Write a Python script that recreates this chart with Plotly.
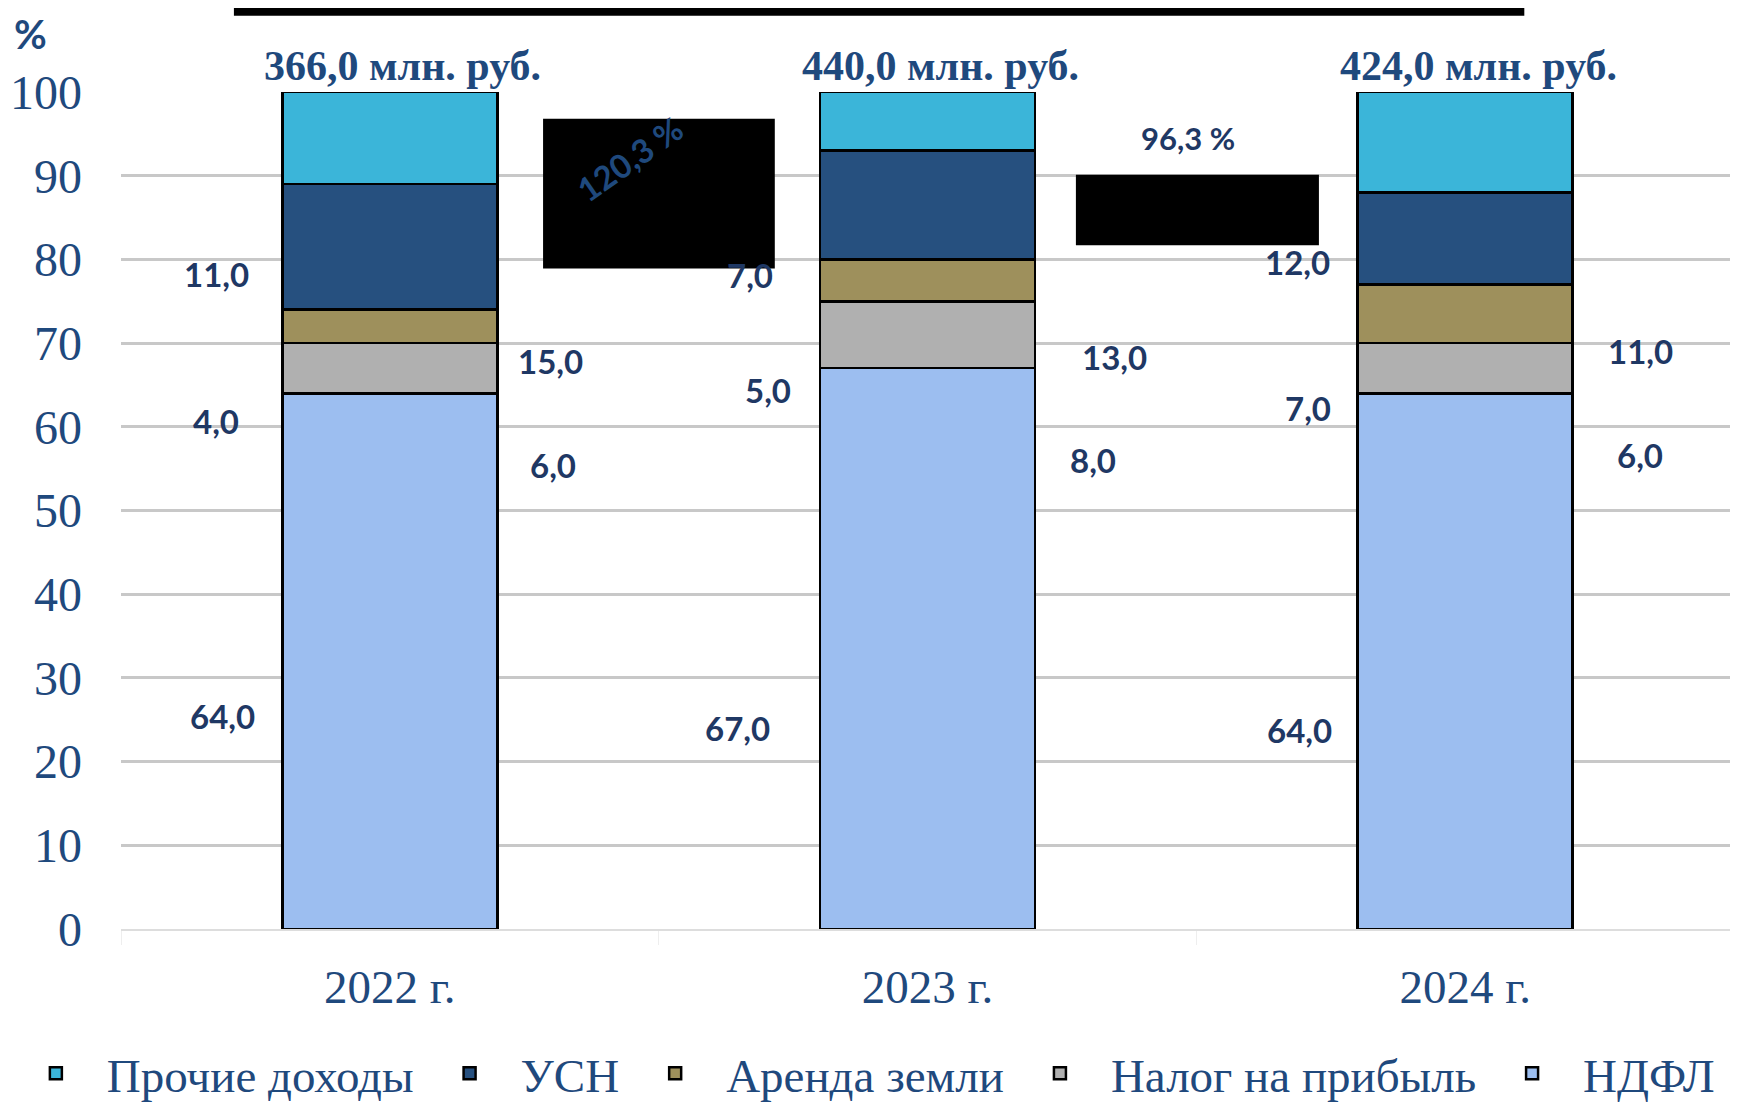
import plotly.graph_objects as go

# ---- data ----
years = ["2022 г.", "2023 г.", "2024 г."]
ndfl = [64.0, 67.0, 64.0]          # НДФЛ
profit_tax = [6.0, 8.0, 6.0]       # Налог на прибыль
land_rent = [4.0, 5.0, 7.0]        # Аренда земли
usn = [15.0, 13.0, 11.0]           # УСН
other = [11.0, 7.0, 12.0]          # Прочие доходы
totals = [366.0, 440.0, 424.0]     # млн. руб.
growth = [120.3, 96.3]             # % к предыдущему году

series_names = ["НДФЛ", "Налог на прибыль", "Аренда земли", "УСН", "Прочие доходы"]
series_values = [ndfl, profit_tax, land_rent, usn, other]
series_colors = ["#9CBEF0", "#B0B0B0", "#9E905C", "#26507F", "#3BB5D9"]

# ---- label placement (layout only) ----
label_y = [  # per year, per series (НДФЛ, Налог, Аренда, УСН, Прочие)
    [25.4, 55.4, 60.7, 67.9, 78.3],
    [24.0, 56.0, 64.4, 68.3, 78.1],
    [23.8, 56.6, 62.3, 69.0, 79.7],
]
label_dx = [
    [-167, 163, -174, 161, -173],
    [-190, 165, -160, 187, -178],
    [-166, 175, -157, 175, -168],
]

NAVY = "#1F497D"
LABEL = "#1F3864"
SERIF = "Liberation Serif"
SANS = "Lato"


def fmt(v):
    return f"{v:.1f}".replace(".", ",")


fig = go.Figure()
for name, vals, col in zip(series_names, series_values, series_colors):
    fig.add_trace(go.Bar(
        x=years, y=vals, name=name, width=0.4,
        marker=dict(color=col, line=dict(color="#000000", width=2.5)),
        hoverinfo="x+y+name",
    ))

annotations = []
for i, yr in enumerate(years):
    for j, vals in enumerate(series_values):
        annotations.append(dict(
            x=yr, y=label_y[i][j], xref="x", yref="y", text=f"<b>{fmt(vals[i])}</b>",
            showarrow=False, xshift=label_dx[i][j],
            font=dict(family=SANS, size=33, color=LABEL),
        ))
    annotations.append(dict(
        x=yr, y=100, xref="x", yref="y", yanchor="bottom", yshift=1, xshift=13,
        text=f"<b>{fmt(totals[i])} млн. руб.</b>", showarrow=False,
        font=dict(family=SERIF, size=42, color=NAVY),
    ))

# growth labels
annotations.append(dict(
    x=0.445, y=92.0, xref="x", yref="y", text=f"<b>{fmt(growth[0])} %</b>",
    showarrow=False, textangle=-35,
    font=dict(family=SANS, size=33, color=NAVY),
))
annotations.append(dict(
    x=1.485, y=94.5, xref="x", yref="y", text=f"<b>{fmt(growth[1])} %</b>",
    showarrow=False, font=dict(family=SANS, size=31, color=LABEL),
))
# "%" axis unit
annotations.append(dict(
    x=-0.0564, y=1.1, xref="paper", yref="paper", xanchor="center", yanchor="top",
    text="<b>%</b>", showarrow=False, font=dict(family=SANS, size=40, color=NAVY),
))

shapes = [
    # redaction boxes
    dict(type="rect", xref="paper", yref="paper", x0=0.070, x1=0.870, y0=1.091, y1=1.12,
         fillcolor="#000000", line=dict(width=0), layer="below"),
    dict(type="rect", xref="x", yref="y", x0=0.285, x1=0.716, y0=78.9, y1=96.8,
         fillcolor="#000000", line=dict(width=0), layer="above"),
    dict(type="rect", xref="x", yref="y", x0=1.276, x1=1.728, y0=81.7, y1=90.1,
         fillcolor="#000000", line=dict(width=0), layer="above"),
]

fig.update_layout(
    width=1730, height=1096,
    margin=dict(l=113, r=4, t=84, b=175, autoexpand=False),
    paper_bgcolor="#FFFFFF", plot_bgcolor="#FFFFFF",
    barmode="stack",
    showlegend=True,
    legend=dict(
        orientation="h", traceorder="reversed",
        x=-0.072, xref="paper", xanchor="left",
        y=-0.128, yref="paper", yanchor="top",
        font=dict(family=SERIF, size=47, color=NAVY),
        itemwidth=92,
    ),
    annotations=annotations,
    shapes=shapes,
    xaxis=dict(
        type="category", showgrid=False, showline=True, linecolor="#DDDDDD", linewidth=2,
        ticks="outside", tickson="boundaries", ticklen=14, tickcolor="#EEEEEE",
        tickfont=dict(family=SERIF, size=47, color=NAVY),
        ticklabelstandoff=16,
    ),
    yaxis=dict(
        range=[0, 100], dtick=10, showgrid=True, gridcolor="#C8C8C8", gridwidth=3,
        zeroline=False, showline=False,
        tickfont=dict(family=SERIF, size=48, color=NAVY),
        ticklabelstandoff=38,
    ),
)

fig.write_html("out.html")
